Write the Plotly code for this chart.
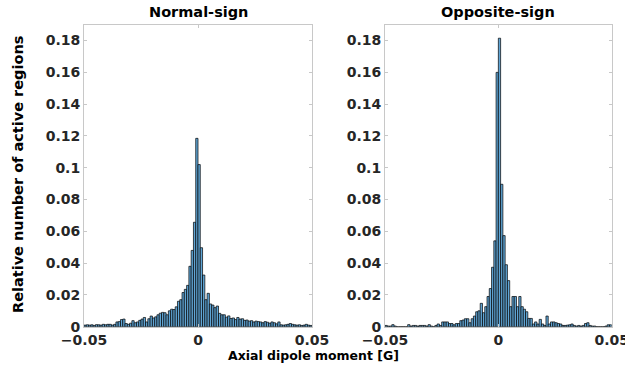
import numpy as np
import plotly.graph_objects as go

# Histogram bin edges: 100 bins from -0.05 to 0.05
bin_start = -0.05
bin_width = 0.001
n_bins = 100

normal_sign = [
    0.0010, 0.0012, 0.0010, 0.0012, 0.0008, 0.0013, 0.0012, 0.0010, 0.0015, 0.0012,
    0.0015, 0.0015, 0.0010, 0.0015, 0.0030, 0.0032, 0.0045, 0.0048, 0.0020, 0.0015,
    0.0022, 0.0038, 0.0025, 0.0030, 0.0040, 0.0048, 0.0058, 0.0030, 0.0050, 0.0067,
    0.0055, 0.0062, 0.0075, 0.0085, 0.0090, 0.0088, 0.0075, 0.0100, 0.0110, 0.0108,
    0.0125, 0.0160, 0.0170, 0.0215, 0.0235, 0.0260, 0.0380, 0.0480, 0.0657, 0.1185,
    0.1020, 0.0497, 0.0325, 0.0170, 0.0210, 0.0143, 0.0136, 0.0120, 0.0130, 0.0084,
    0.0075, 0.0075, 0.0060, 0.0068, 0.0052, 0.0055, 0.0045, 0.0058, 0.0048, 0.0050,
    0.0040, 0.0042, 0.0035, 0.0038, 0.0030, 0.0035, 0.0032, 0.0030, 0.0025, 0.0032,
    0.0028, 0.0022, 0.0030, 0.0025, 0.0018, 0.0030, 0.0012, 0.0010, 0.0012, 0.0015,
    0.0020, 0.0015, 0.0012, 0.0010, 0.0012, 0.0008, 0.0010, 0.0015, 0.0010, 0.0008,
]

opposite_sign = [
    0.0008, 0.0004, 0.0004, 0.0013, 0.0004, 0.0000, 0.0000, 0.0000, 0.0000, 0.0000,
    0.0013, 0.0004, 0.0008, 0.0008, 0.0004, 0.0008, 0.0008, 0.0008, 0.0004, 0.0013,
    0.0004, 0.0000, 0.0008, 0.0017, 0.0008, 0.0030, 0.0030, 0.0030, 0.0020, 0.0020,
    0.0012, 0.0020, 0.0020, 0.0038, 0.0042, 0.0050, 0.0050, 0.0025, 0.0050, 0.0067,
    0.0094, 0.0100, 0.0147, 0.0088, 0.0126, 0.0190, 0.0240, 0.0374, 0.0540, 0.1600,
    0.1815, 0.0896, 0.0573, 0.0390, 0.0290, 0.0126, 0.0190, 0.0190, 0.0126, 0.0190,
    0.0126, 0.0110, 0.0094, 0.0052, 0.0052, 0.0017, 0.0030, 0.0017, 0.0046, 0.0017,
    0.0008, 0.0067, 0.0017, 0.0030, 0.0030, 0.0025, 0.0020, 0.0017, 0.0008, 0.0008,
    0.0010, 0.0012, 0.0017, 0.0008, 0.0004, 0.0008, 0.0004, 0.0008, 0.0020, 0.0025,
    0.0008, 0.0004, 0.0004, 0.0000, 0.0000, 0.0000, 0.0000, 0.0004, 0.0012, 0.0012,
]

panel_titles = ["Normal-sign", "Opposite-sign"]
x_tick_vals = [-0.05, 0, 0.05]
x_tick_text = ["\u22120.05", "0", "0.05"]
y_tick_vals = [0, 0.02, 0.04, 0.06, 0.08, 0.1, 0.12, 0.14, 0.16, 0.18]
y_tick_text = ["0", "0.02", "0.04", "0.06", "0.08", "0.1", "0.12", "0.14", "0.16", "0.18"]

centers = bin_start + bin_width * (np.arange(n_bins) + 0.5)

FONT = "DejaVu Sans"
W, H = 625, 374


def fx(px):
    return px / W


def fy(py):
    return 1 - py / H


fig = go.Figure()

fill = "rgb(96,166,214)"
for k, vals in enumerate([normal_sign, opposite_sign]):
    fig.add_trace(go.Bar(
        x=centers, y=vals, width=bin_width,
        marker=dict(color=fill, line=dict(color="black", width=0.7)),
        xaxis="x" if k == 0 else "x2", yaxis="y" if k == 0 else "y2",
        showlegend=False, hoverinfo="skip",
    ))

ydom = [fy(326.7), fy(24.7)]
axis_common = dict(
    showgrid=False, zeroline=False, showline=True, linecolor="#c8c8c8", linewidth=1,
    mirror="ticks", ticks="inside", ticklen=3, tickcolor="#c8c8c8", automargin=False,
    ticklabeloverflow="allow",
    tickfont=dict(family=FONT, size=14, color="#262626", weight="bold"),
)
fig.update_layout(
    width=W, height=H, margin=dict(l=0, r=0, t=0, b=0, pad=0),
    paper_bgcolor="white", plot_bgcolor="white", bargap=0,
    font=dict(family=FONT, color="#262626"),
    xaxis=dict(domain=[fx(84), fx(312)], range=[-0.05, 0.05], anchor="y",
               tickvals=x_tick_vals, ticktext=x_tick_text, **axis_common),
    yaxis=dict(domain=ydom, range=[0, 0.19], anchor="x",
               tickvals=y_tick_vals, ticktext=y_tick_text, **axis_common),
    xaxis2=dict(domain=[fx(385), fx(611.7)], range=[-0.05, 0.05], anchor="y2",
                tickvals=x_tick_vals, ticktext=x_tick_text, **axis_common),
    yaxis2=dict(domain=ydom, range=[0, 0.19], anchor="x2",
                tickvals=y_tick_vals, ticktext=y_tick_text, **axis_common),
)

ann_font = dict(family=FONT, size=14.5, color="black", weight="bold")
common_ann = dict(xref="paper", yref="paper", showarrow=False,
                  xanchor="center", yanchor="middle")
fig.add_annotation(text=panel_titles[0], x=fx(198), y=fy(12), font=ann_font, **common_ann)
fig.add_annotation(text=panel_titles[1], x=fx(498), y=fy(12), font=ann_font, **common_ann)
fig.add_annotation(text="Axial dipole moment [G]", x=fx(313), y=fy(355),
                   font=dict(ann_font, size=12.5), **common_ann)
fig.add_annotation(text="Relative number of active regions", x=fx(18), y=fy(175),
                   textangle=-90, font=ann_font, **common_ann)

# remove the default 8px page margin so the 625x374 figure fills the window
fig.write_html(
    "out.html",
    config={"displayModeBar": False, "staticPlot": True},
    post_script="document.body.style.margin='0';document.body.style.overflow='hidden';",
)
